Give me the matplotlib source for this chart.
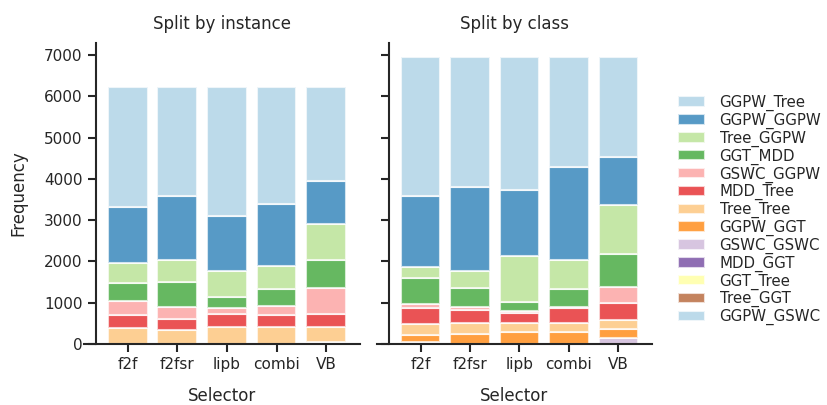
import numpy as np
import matplotlib
matplotlib.use("Agg")
import matplotlib.pyplot as plt
import seaborn as sns

# data
selectors = ["f2f", "f2fsr", "lipb", "combi", "VB"]
# stack order, bottom first
categories = ["GGPW_GSWC", "Tree_GGT", "GGT_Tree", "MDD_GGT", "GSWC_GSWC",
              "GGPW_GGT", "Tree_Tree", "MDD_Tree", "GSWC_GGPW", "GGT_MDD",
              "Tree_GGPW", "GGPW_GGPW", "GGPW_Tree"]

instance_counts = {
    "GGPW_GSWC": [0, 0, 0, 0, 0],
    "Tree_GGT":  [0, 0, 0, 0, 0],
    "GGT_Tree":  [0, 0, 0, 0, 0],
    "MDD_GGT":   [0, 0, 0, 0, 0],
    "GSWC_GSWC": [0, 0, 0, 0, 60],
    "GGPW_GGT":  [0, 0, 0, 0, 0],
    "Tree_Tree": [395, 346, 419, 419, 360],
    "MDD_Tree":  [316, 261, 309, 277, 317],
    "GSWC_GGPW": [341, 299, 146, 235, 617],
    "GGT_MDD":   [414, 601, 268, 398, 673],
    "Tree_GGPW": [486, 535, 616, 551, 885],
    "GGPW_GGPW": [1363, 1533, 1347, 1517, 1036],
    "GGPW_Tree": [2905, 2645, 3115, 2823, 2272],
}

class_counts = {
    "GGPW_GSWC": [0, 0, 0, 0, 0],
    "Tree_GGT":  [0, 0, 0, 0, 0],
    "GGT_Tree":  [0, 0, 0, 0, 0],
    "MDD_GGT":   [0, 0, 0, 0, 0],
    "GSWC_GSWC": [60, 0, 0, 0, 140],
    "GGPW_GGT":  [158, 243, 283, 283, 228],
    "Tree_Tree": [268, 276, 236, 227, 212],
    "MDD_Tree":  [397, 316, 235, 365, 404],
    "GSWC_GGPW": [90, 65, 40, 30, 389],
    "GGT_MDD":   [616, 454, 235, 425, 813],
    "Tree_GGPW": [276, 422, 1095, 706, 1183],
    "GGPW_GGPW": [1719, 2019, 1598, 2238, 1153],
    "GGPW_Tree": [3361, 3150, 3223, 2671, 2427],
}

sns.set_style("ticks")
sns.set_context("notebook")
plt.rcParams["font.family"] = ["DejaVu Sans"]

# Paired palette, top of stack first, wraps round for the 13th
paired = sns.color_palette("Paired", 12)
colors = [paired[(12 - i) % 12] for i in range(13)]

fig = plt.figure(figsize=(8.28, 4.05), dpi=100)
ax1 = fig.add_axes([0.1014, 0.1506, 0.3334, 0.7434])
ax2 = fig.add_axes([0.4553, 0.1506, 0.3321, 0.7434], sharey=ax1)

x = np.arange(len(selectors))

def stacked(ax, counts, title):
    bottom = np.zeros(len(selectors))
    handles = []
    for cat, col in zip(categories, colors):
        vals = np.array(counts[cat], dtype=float)
        b = ax.bar(x, vals, 0.8, bottom=bottom, color=col, alpha=0.75,
                   edgecolor="white", linewidth=1.5, label=cat)
        handles.append(b)
        bottom += vals
    ax.set_xticks(x)
    ax.set_xticklabels(selectors)
    ax.set_xlim(-0.88, 4.68)
    ax.set_xlabel("Selector", labelpad=11)
    ax.set_title(title, fontsize=12, pad=10)
    ax.spines["top"].set_visible(False)
    ax.spines["right"].set_visible(False)
    ax.spines["left"].set_position(("data", -0.64))
    for s in ["left", "bottom"]:
        ax.spines[s].set_linewidth(1.5)
        ax.spines[s].set_color("#262626")
    ax.tick_params(width=1.5, length=6, color="#262626", labelcolor="#262626")
    return handles

handles = stacked(ax1, instance_counts, "Split by instance")
stacked(ax2, class_counts, "Split by class")

ax1.set_ylim(0, 7290)
ax1.set_yticks(range(0, 7001, 1000))
ax1.set_ylabel("Frequency", labelpad=12)
plt.setp(ax2.get_yticklabels(), visible=False)

fig.legend(handles[::-1], categories[::-1], loc="upper left",
           bbox_to_anchor=(0.802, 0.799), frameon=False, fontsize=10.8,
           handlelength=1.8, handletextpad=1.0, labelspacing=0.11)

fig.savefig("out.png", dpi=100)
